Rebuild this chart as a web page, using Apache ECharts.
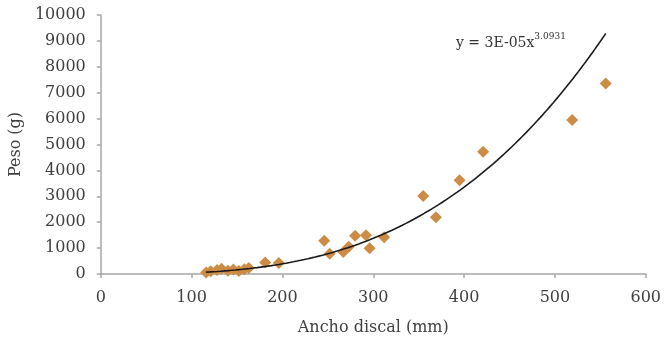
<!DOCTYPE html>
<html>
<head>
<meta charset="utf-8">
<script src="https://cdn.jsdelivr.net/npm/echarts@6/dist/echarts.min.js"></script>
<style>
  html, body { margin: 0; padding: 0; background: #fff; }
  #chart { width: 664px; height: 341px; }
</style>
</head>
<body>
<div id="chart"></div>
<script>
// Disc width (mm) against weight (g) for each specimen
const anchoDiscal = [116, 121, 128, 133, 140, 146, 152, 158, 163, 181, 196, 246, 252, 267, 273, 280, 292, 296, 312, 355, 369, 395, 421, 519, 556];
const peso        = [60, 110, 150, 200, 130, 170, 120, 180, 230, 440, 420, 1280, 780, 850, 1050, 1480, 1500, 990, 1420, 3010, 2190, 3620, 4720, 5950, 7360];

// Fitted power curve y = a * x^b
const coefA = 3e-5;
const expB = 3.0931;
const equationMain = 'y = 3E-05x';
const equationExp = '3.0931';

const xTicks = [0, 100, 200, 300, 400, 500, 600];
const yTicks = [0, 1000, 2000, 3000, 4000, 5000, 6000, 7000, 8000, 9000, 10000];

const points = anchoDiscal.map((x, i) => [x, peso[i]]);

const xMinData = Math.min(...anchoDiscal);
const xMaxData = Math.max(...anchoDiscal);
const trend = [];
for (let x = xMinData; x <= xMaxData; x += 2) trend.push([x, coefA * Math.pow(x, expB)]);
trend.push([xMaxData, coefA * Math.pow(xMaxData, expB)]);

const serif = 'DejaVu Serif';
const axisGray = '#a6a6a6';
const textGray = '#404040';

const chart = echarts.init(document.getElementById('chart'), null, { renderer: 'canvas' });
chart.setOption({
  animation: false,
  backgroundColor: '#ffffff',
  grid: { left: 97, right: 16, top: 15, bottom: 67 },
  xAxis: {
    type: 'value',
    min: xTicks[0],
    max: xTicks[xTicks.length - 1],
    interval: 100,
    name: 'Ancho discal (mm)',
    nameLocation: 'middle',
    nameGap: 46,
    nameTextStyle: { fontFamily: serif, fontSize: 16, color: textGray },
    axisLine: { lineStyle: { color: axisGray, width: 1.5 } },
    axisTick: { show: true, inside: false, length: 4, lineStyle: { color: axisGray, width: 1.5 } },
    axisLabel: { fontFamily: serif, fontSize: 16, color: textGray, margin: 16, formatter: v => String(v) },
    splitLine: { show: false }
  },
  yAxis: {
    type: 'value',
    min: yTicks[0],
    max: yTicks[yTicks.length - 1],
    interval: 1000,
    name: 'Peso (g)',
    nameLocation: 'middle',
    nameGap: 74,
    nameRotate: 90,
    nameTextStyle: { fontFamily: serif, fontSize: 16, color: textGray },
    axisLine: { show: true, lineStyle: { color: axisGray, width: 1.5 } },
    axisTick: { show: true, inside: false, length: 4, lineStyle: { color: axisGray, width: 1.5 } },
    axisLabel: { fontFamily: serif, fontSize: 16, color: textGray, margin: 15, formatter: v => String(v) },
    splitLine: { show: false }
  },
  series: [
    {
      type: 'line',
      data: trend,
      showSymbol: false,
      symbol: 'none',
      lineStyle: { color: '#1a1a1a', width: 1.6 },
      z: 3
    },
    {
      type: 'scatter',
      data: points,
      symbol: 'diamond',
      symbolSize: 12,
      itemStyle: { color: '#cd8c45', opacity: 1 },
      z: 2
    }
  ],
  graphic: [
    {
      type: 'text',
      left: 456,
      top: 32,
      style: {
        text: '{m|' + equationMain + '}{s|' + equationExp + '}',
        rich: {
          m: { fontFamily: serif, fontSize: 14, fill: '#333', lineHeight: 18, verticalAlign: 'bottom' },
          s: { fontFamily: serif, fontSize: 9, fill: '#333', lineHeight: 18, verticalAlign: 'top', padding: [0, 0, 6, 0] }
        }
      }
    }
  ]
});
</script>
</body>
</html>
